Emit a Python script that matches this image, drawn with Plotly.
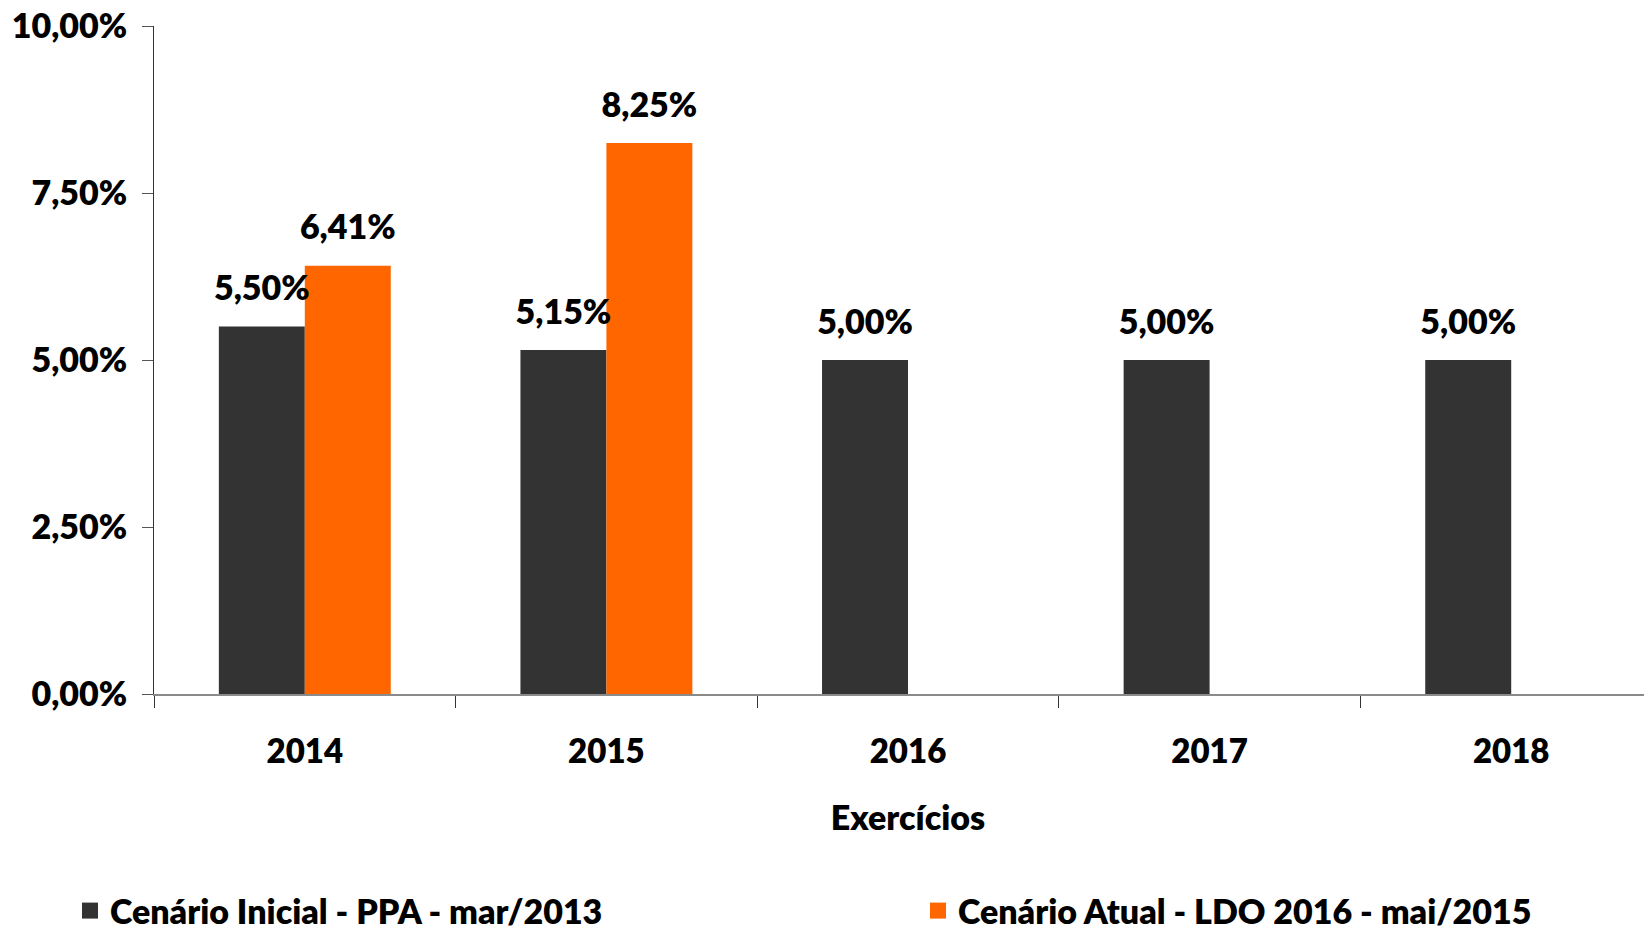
import plotly.graph_objects as go

years = ["2014", "2015", "2016", "2017", "2018"]
ppa_values = [5.50, 5.15, 5.00, 5.00, 5.00]
ldo_values = [6.41, 8.25, None, None, None]
series_names = ["Cenário Inicial - PPA - mar/2013", "Cenário Atual - LDO 2016 - mai/2015"]
series_colors = ["#333333", "#FF6600"]
y_ticks = [0, 2.5, 5, 7.5, 10]


def pct(v):
    return f"{v:.2f}".replace(".", ",") + "%"


FONT = "Lato"
W = 800  # font weight
# the page body keeps an 8px margin; the plot area runs a little past the right edge
FIG_W, FIG_H = 1654, 922

fig = go.Figure()

for name, vals, col, grp, leg in zip(series_names, [ppa_values, ldo_values], series_colors,
                                     ["a", "b"], ["legend", "legend2"]):
    fig.add_trace(go.Bar(
        x=years, y=vals, name=name, marker=dict(color=col, line=dict(width=0)),
        offsetgroup=grp, showlegend=False, hoverinfo="x+y",
    ))
    # value labels, grouped the same way as the bars
    fig.add_trace(go.Scatter(
        x=years, y=vals, mode="markers+text", offsetgroup=grp,
        text=[None if v is None else pct(v) for v in vals],
        textposition="top center",
        textfont=dict(family=FONT, size=34, color="#000000", weight=W),
        marker=dict(size=27, opacity=0, color=col),
        showlegend=False, hoverinfo="skip", cliponaxis=False,
    ))
    # legend entry
    fig.add_trace(go.Scatter(
        x=[None], y=[None], mode="markers", name=name, legend=leg,
        marker=dict(symbol="square", size=23, color=col, line=dict(width=0)),
        showlegend=True,
    ))

legend_common = dict(
    orientation="h", xref="container", yref="container",
    y=(FIG_H - 903) / FIG_H, xanchor="left", yanchor="middle",
    font=dict(family=FONT, size=34, color="#000000", weight=W),
    itemsizing="trace", bgcolor="rgba(0,0,0,0)",
)

fig.update_layout(
    width=FIG_W, height=FIG_H,
    margin=dict(l=146, r=0, t=18, b=236, autoexpand=False),
    paper_bgcolor="white", plot_bgcolor="white",
    barmode="group", bargap=0.43, bargroupgap=0,
    scattermode="group", scattergap=0.43,
    separators=",.",
    font=dict(family=FONT, color="#000000", weight=W),
    showlegend=True,
    legend=dict(x=62 / FIG_W, **legend_common),
    legend2=dict(x=910 / FIG_W, **legend_common),
    xaxis=dict(
        type="category", range=[-0.5, 4.5], automargin=False,
        showline=True, linecolor="#8a8a8a", linewidth=1.5,
        ticks="outside", tickson="boundaries", ticklen=12, tickcolor="#333333", tickwidth=1,
        tickfont=dict(family=FONT, size=33, color="#000000", weight=W),
        ticklabelstandoff=28,
        showgrid=False, zeroline=False,
        title=dict(text="Exercícios", font=dict(family=FONT, size=34, color="#000000", weight=W), standoff=37),
    ),
    yaxis=dict(
        range=[0, 10], tickmode="array", tickvals=y_ticks, ticktext=[pct(v) for v in y_ticks],
        automargin=False, ticklabeloverflow="allow",
        showline=True, linecolor="#333333", linewidth=1,
        ticks="outside", ticklen=11, tickcolor="#555555",
        tickfont=dict(family=FONT, size=34, color="#000000", weight=W),
        ticklabelstandoff=8,
        showgrid=False, zeroline=False,
    ),
)

fig.write_html("out.html")
